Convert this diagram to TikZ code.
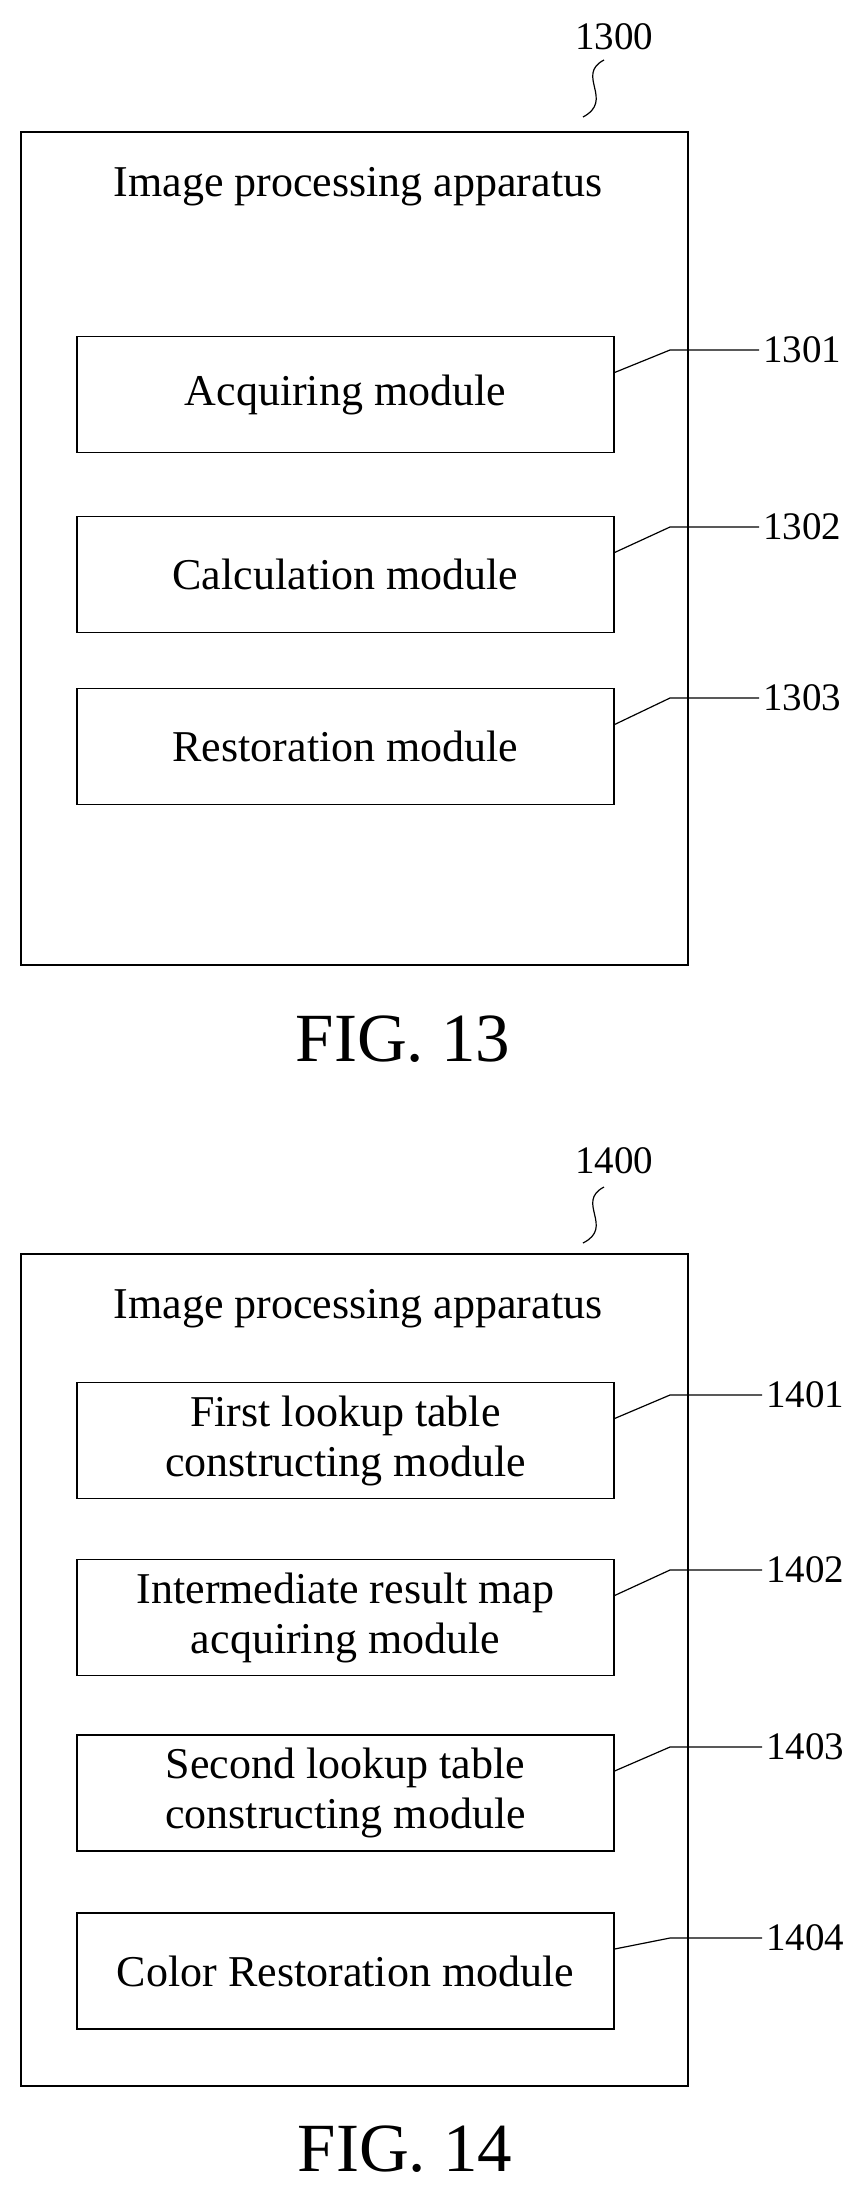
\documentclass[tikz,border=0pt]{standalone}
\usepackage{fontspec}
\setmainfont{Liberation Serif}
\usetikzlibrary{positioning}

\begin{document}
\begin{tikzpicture}[x=1pt,y=-1pt,line width=1.2pt,
    module/.style={draw,minimum width=537pt,minimum height=116pt,align=center,font=\fontsize{44}{50}\selectfont},
    title/.style={font=\fontsize{44}{50}\selectfont},
    ref/.style={font=\fontsize{39}{42}\selectfont},
    fig/.style={font=\fontsize{69}{72}\selectfont}]
      \useasboundingbox (0,0) rectangle (862,2201);
      % FIG. 13
      \node[draw,minimum width=667pt,minimum height=833pt] (a_13) at (354.5,548.5) {};
      \node[title] (t_13) at (358,187) {Image processing apparatus};
      \node[module] (m_1301) at (345.5,394.5) {Acquiring module};
      \node[module] (m_1302) at (345.5,574.5) {Calculation module};
      \node[module] (m_1303) at (345.5,746.5) {Restoration module};
      \node[ref] (r_1300) at (614,37) {1300};
      \node[ref] (r_1301) at (802,350) {1301};
      \node[ref] (r_1302) at (802,527) {1302};
      \node[ref] (r_1303) at (802,698) {1303};
      \node[fig] (f_13) at (403,1039) {FIG. 13};
      \draw (604,60) .. controls (575,75) and (615,100) .. (583,117);
      \foreach \n/\y in {1301/350,1302/527,1303/698}
        \draw (m_\n.east) ++(0,-22) -- (670,\y) -- (r_\n.west);
      % FIG. 14
      \node[draw,minimum width=667pt,minimum height=832pt] (a_14) at (354.5,1670) {};
      \node[title] (t_14) at (358,1309) {Image processing apparatus};
      \node[module] (m_1401) at (345.5,1440.5) {First lookup table\\constructing module};
      \node[module] (m_1402) at (345.5,1617.5) {Intermediate result map\\acquiring module};
      \node[module] (m_1403) at (345.5,1793) {Second lookup table\\constructing module};
      \node[module] (m_1404) at (345.5,1971) {Color Restoration module};
      \node[ref] (r_1400) at (614,1161) {1400};
      \node[ref] (r_1401) at (805,1395) {1401};
      \node[ref] (r_1402) at (805,1570) {1402};
      \node[ref] (r_1403) at (805,1747) {1403};
      \node[ref] (r_1404) at (805,1938) {1404};
      \node[fig] (f_14) at (405,2149) {FIG. 14};
      \draw (604,1187) .. controls (575,1202) and (615,1227) .. (583,1243);
      \foreach \n/\y in {1401/1395,1402/1570,1403/1747,1404/1938}
        \draw (m_\n.east) ++(0,-22) -- (670,\y) -- (r_\n.west);
\end{tikzpicture}
\end{document}
